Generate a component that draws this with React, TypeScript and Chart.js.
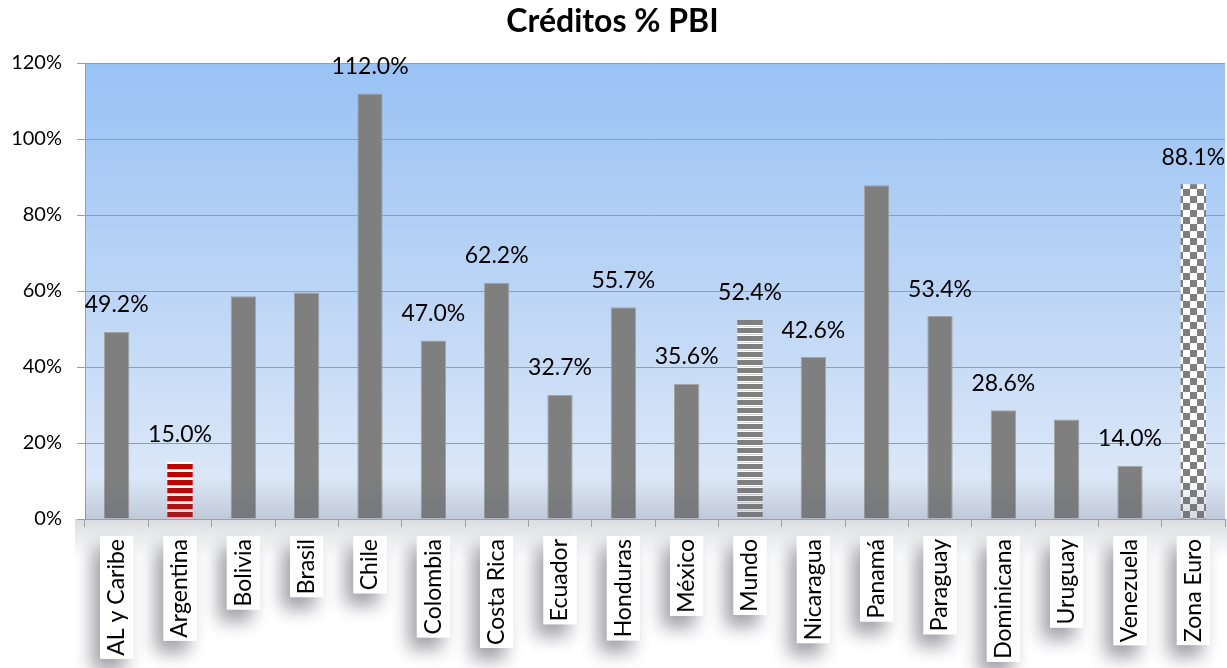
import React, { useEffect, useRef } from 'react';
import { Chart, registerables } from 'chart.js';

Chart.register(...registerables);

const categories = [
  'AL y Caribe', 'Argentina', 'Bolivia', 'Brasil', 'Chile', 'Colombia', 'Costa Rica', 'Ecuador',
  'Honduras', 'México', 'Mundo', 'Nicaragua', 'Panamá', 'Paraguay', 'Dominicana', 'Uruguay',
  'Venezuela', 'Zona Euro',
];
const values = [49.2, 15.0, 58.6, 59.6, 112.0, 47.0, 62.2, 32.7, 55.7, 35.6, 52.4, 42.6, 87.8, 53.4, 28.6, 26.2, 14.0, 88.1];
const showValueLabel = [true, true, false, false, true, true, true, true, true, true, true, true, false, true, true, false, true, true];
const yTicks = [0, 20, 40, 60, 80, 100, 120];
const titleText = 'Créditos % PBI';

const FONT = "Lato, 'Open Sans', sans-serif";
const XFONT_SIZE = 23;

function makePattern(kind: string): CanvasPattern | string {
  const c = document.createElement('canvas');
  const g = c.getContext('2d');
  if (!g) return '#7f7f7f';
  if (kind === 'red') {
    c.width = 8; c.height = 8;
    g.fillStyle = '#ffffff'; g.fillRect(0, 0, 8, 8);
    g.fillStyle = '#c00000'; g.fillRect(0, 0, 8, 5);
    g.fillStyle = '#f2c8c8'; g.fillRect(0, 5, 8, 1);
  } else if (kind === 'stripe') {
    c.width = 8; c.height = 8;
    g.fillStyle = '#ffffff'; g.fillRect(0, 0, 8, 8);
    g.fillStyle = '#7f7f7f'; g.fillRect(0, 0, 8, 5);
    g.fillStyle = '#d8d8d8'; g.fillRect(0, 6, 8, 1);
  } else {
    c.width = 14; c.height = 14;
    g.fillStyle = '#ffffff'; g.fillRect(0, 0, 14, 14);
    g.fillStyle = '#7f7f7f'; g.fillRect(0, 0, 7, 7); g.fillRect(7, 7, 7, 7);
  }
  return g.createPattern(c, 'repeat') || '#7f7f7f';
}

export default function App() {
  const ref = useRef<HTMLCanvasElement | null>(null);

  useEffect(() => {
    document.body.style.margin = '0';
    const canvas = ref.current;
    if (!canvas) return;

    const colors = categories.map((c) => {
      if (c === 'Argentina') return makePattern('red');
      if (c === 'Mundo') return makePattern('stripe');
      if (c === 'Zona Euro') return makePattern('checker');
      return '#7f7f7f';
    });
    const borderWidths = categories.map((c) => (c === 'Argentina' || c === 'Mundo' || c === 'Zona Euro' ? 0 : 1));

    const decorPlugin = {
      id: 'decor',
      beforeDraw(chart: any) {
        const { ctx, chartArea } = chart;
        const ca = chartArea;
        ctx.save();
        const grad = ctx.createLinearGradient(0, ca.top, 0, ca.bottom);
        grad.addColorStop(0, '#99c2f4');
        grad.addColorStop(0.5, '#bcd5f6');
        grad.addColorStop(1, '#e2ebf8');
        ctx.fillStyle = grad;
        ctx.fillRect(ca.left, ca.top, ca.right - ca.left, ca.bottom - ca.top);

        // light band below the axis
        const g3 = ctx.createLinearGradient(0, ca.bottom, 0, ca.bottom + 40);
        g3.addColorStop(0, 'rgba(150,155,165,0.35)');
        g3.addColorStop(1, 'rgba(150,155,165,0)');
        ctx.fillStyle = g3;
        ctx.fillRect(ca.left - 10, ca.bottom, ca.right - ca.left + 12, 40);

        // label boxes with shadows
        const xs = chart.scales.x;
        ctx.font = `${XFONT_SIZE}px ${FONT}`;
        const topY = ca.bottom + 8 + 12;
        const boxes = categories.map((lab, i) => {
          const x = xs.getPixelForTick(i);
          const w = ctx.measureText(lab).width;
          return { x: x - 16.5, y: topY - 3, w: 33, h: w + 6 };
        });
        ctx.shadowColor = 'rgba(60,60,75,0.5)';
        ctx.shadowBlur = 18;
        ctx.shadowOffsetX = -8;
        ctx.shadowOffsetY = 12;
        ctx.fillStyle = '#ffffff';
        boxes.forEach((b) => ctx.fillRect(b.x, b.y, b.w, b.h));
        ctx.shadowColor = 'transparent';
        ctx.shadowBlur = 0;
        ctx.shadowOffsetX = 0;
        ctx.shadowOffsetY = 0;
        boxes.forEach((b) => ctx.fillRect(b.x, b.y, b.w, b.h));
        ctx.restore();
      },
      afterDatasetsDraw(chart: any) {
        const { ctx, chartArea } = chart;
        const ca = chartArea;
        ctx.save();
        const g2 = ctx.createLinearGradient(0, ca.bottom - 42, 0, ca.bottom);
        g2.addColorStop(0, 'rgba(90,100,120,0)');
        g2.addColorStop(1, 'rgba(90,100,120,0.25)');
        ctx.fillStyle = g2;
        ctx.fillRect(ca.left, ca.bottom - 42, ca.right - ca.left, 42);

        const meta = chart.getDatasetMeta(0);
        ctx.font = `23px ${FONT}`;
        ctx.fillStyle = '#000000';
        ctx.textAlign = 'center';
        ctx.textBaseline = 'middle';
        meta.data.forEach((bar: any, i: number) => {
          if (!showValueLabel[i]) return;
          ctx.fillText(values[i].toFixed(1) + '%', bar.x, bar.y - 27);
        });
        ctx.restore();
      },
    };

    const chart = new Chart(canvas, {
      type: 'bar',
      data: {
        labels: categories,
        datasets: [
          {
            data: values,
            backgroundColor: colors as any,
            borderColor: '#a3a3a3',
            borderWidth: borderWidths,
            barPercentage: 0.4,
            categoryPercentage: 1,
          },
        ],
      },
      options: {
        responsive: false,
        animation: false,
        layout: { padding: { left: 0, right: 2, top: 0, bottom: 0 } },
        plugins: {
          legend: { display: false },
          tooltip: { enabled: false },
          title: {
            display: true,
            text: titleText,
            color: '#000000',
            font: { family: FONT, size: 32, weight: 'bold' },
            padding: { top: 2, bottom: 22.6 },
          },
        },
        scales: {
          x: {
            offset: true,
            grid: { drawOnChartArea: false, drawTicks: true, tickLength: 8, color: '#a0a0a0' },
            border: { color: '#a0a0a0' },
            ticks: {
              autoSkip: false,
              minRotation: 90,
              maxRotation: 90,
              padding: 12,
              color: '#000000',
              font: { family: FONT, size: XFONT_SIZE },
            },
            afterFit(scale: any) {
              scale.height = 149;
              scale.paddingLeft = 0;
              scale.paddingRight = 0;
            },
          },
          y: {
            min: 0,
            max: 120,
            grid: { color: '#9c9c9c', tickLength: 8 },
            border: { color: '#a0a0a0' },
            ticks: {
              padding: 15,
              color: '#000000',
              font: { family: FONT, size: 20 },
              callback: (v: any) => v + '%',
            },
            afterBuildTicks(scale: any) {
              scale.ticks = yTicks.map((v) => ({ value: v }));
            },
            afterFit(scale: any) {
              scale.width = 85;
            },
          },
        },
      },
      plugins: [decorPlugin],
    });

    return () => chart.destroy();
  }, []);

  return (
    <div style={{ width: 1227, height: 668 }}>
      <canvas ref={ref} width={1227} height={668} style={{ display: 'block' }} />
    </div>
  );
}
